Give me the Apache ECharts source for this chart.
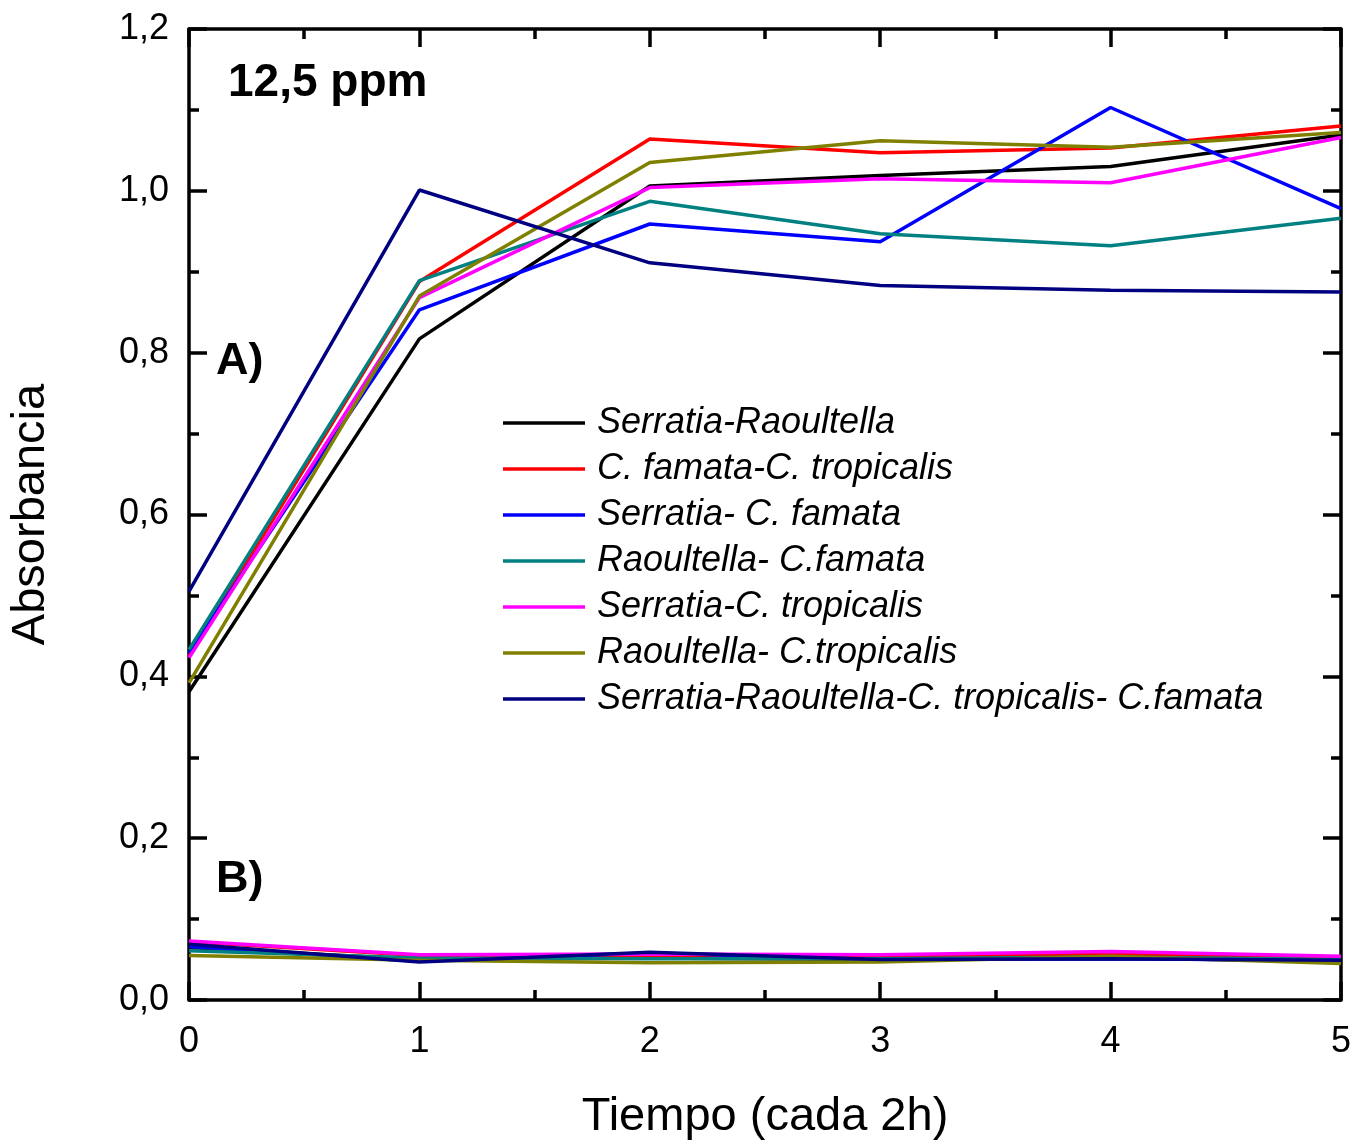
<!DOCTYPE html>
<html><head><meta charset="utf-8">
<script src="https://cdn.jsdelivr.net/npm/echarts@6/dist/echarts.min.js"></script>
<style>html,body{margin:0;padding:0;background:#fff}#c{width:1368px;height:1144px}</style>
</head><body><div id="c"></div>
<script>
const xValues = [0, 1, 2, 3, 4, 5];
const seriesNames = [
  'Serratia-Raoultella',
  'C. famata-C. tropicalis',
  'Serratia- C. famata',
  'Raoultella- C.famata',
  'Serratia-C. tropicalis',
  'Raoultella- C.tropicalis',
  'Serratia-Raoultella-C. tropicalis- C.famata'
];
const seriesColors = ['#000000', '#ff0000', '#0000ff', '#008080', '#ff00ff', '#808000', '#000080'];
// Group A
const serraRaoA   = [0.381, 0.817, 1.006, 1.019, 1.030, 1.069];
const famTropA    = [0.425, 0.888, 1.064, 1.047, 1.053, 1.080];
const serraFamA   = [0.429, 0.853, 0.959, 0.937, 1.103, 0.978];
const raoFamA     = [0.433, 0.889, 0.987, 0.947, 0.932, 0.966];
const serraTropA  = [0.423, 0.868, 1.004, 1.015, 1.010, 1.066];
const raoTropA    = [0.392, 0.870, 1.035, 1.062, 1.054, 1.072];
const allFourA    = [0.505, 1.001, 0.911, 0.883, 0.877, 0.875];
// Group B
const serraRaoB   = [0.065, 0.050, 0.052, 0.050, 0.052, 0.048];
const famTropB    = [0.072, 0.055, 0.054, 0.053, 0.057, 0.052];
const serraFamB   = [0.066, 0.048, 0.058, 0.050, 0.051, 0.049];
const raoFamB     = [0.061, 0.052, 0.051, 0.051, 0.053, 0.050];
const serraTropB  = [0.073, 0.056, 0.057, 0.056, 0.060, 0.054];
const raoTropB    = [0.055, 0.049, 0.046, 0.047, 0.054, 0.045];
const allFourB    = [0.069, 0.047, 0.059, 0.050, 0.051, 0.049];

const groupA = [serraRaoA, famTropA, serraFamA, raoFamA, serraTropA, raoTropA, allFourA];
const groupB = [serraRaoB, famTropB, serraFamB, raoFamB, serraTropB, raoTropB, allFourB];

const FONT = '"Liberation Sans", Arial, sans-serif';

function mk(name, color, vals) {
  return {
    name: name, type: 'line', symbol: 'none', showSymbol: false,
    data: vals.map((v, i) => [xValues[i], v]),
    lineStyle: { color: color, width: 3.5 },
    itemStyle: { color: color },
    emphasis: { disabled: true },
    animation: false
  };
}
const series = [];
groupA.forEach((d, i) => series.push(mk(seriesNames[i], seriesColors[i], d)));
groupB.forEach((d, i) => series.push(mk(seriesNames[i], seriesColors[i], d)));

function axisCommon() {
  return {
    axisLine: { show: true, onZero: false, lineStyle: { color: '#000', width: 3.5 } },
    axisTick: { show: true, inside: true, length: 18, lineStyle: { color: '#000', width: 3.5 } },
    minorTick: { show: true, splitNumber: 2, length: 10, lineStyle: { color: '#000', width: 3.5 } },
    splitLine: { show: false }
  };
}

const chart = echarts.init(document.getElementById('c'), null, { renderer: 'canvas' });
chart.setOption({
  backgroundColor: '#fff',
  animation: false,
  grid: { left: 189, right: 27, top: 29, bottom: 144, containLabel: false, outerBoundsMode: 'none' },
  xAxis: [
    Object.assign({
      type: 'value', min: 0, max: 5, interval: 1, position: 'bottom',
      name: 'Tiempo (cada 2h)', nameLocation: 'middle', nameGap: 94,
      nameTextStyle: { fontFamily: FONT, fontSize: 47, color: '#000' },
      axisLabel: { show: true, fontFamily: FONT, fontSize: 36, color: '#000', margin: 24,
                   formatter: v => String(v) }
    }, axisCommon()),
    Object.assign({
      type: 'value', min: 0, max: 5, interval: 1, position: 'top',
      axisLabel: { show: false }
    }, axisCommon())
  ],
  yAxis: [
    Object.assign({
      type: 'value', min: 0, max: 1.2, interval: 0.2, position: 'left',
      name: 'Absorbancia', nameLocation: 'middle', nameGap: 134,
      nameTextStyle: { fontFamily: FONT, fontSize: 47, color: '#000' },
      axisLabel: { show: true, fontFamily: FONT, fontSize: 36, color: '#000', margin: 20,
                   formatter: v => v.toFixed(1).replace('.', ',') }
    }, axisCommon()),
    Object.assign({
      type: 'value', min: 0, max: 1.2, interval: 0.2, position: 'right',
      axisLabel: { show: false }
    }, axisCommon())
  ],
  legend: {
    data: seriesNames,
    orient: 'vertical', left: 503, top: 405, padding: 0,
    icon: 'rect',
    itemWidth: 82, itemHeight: 3.5, itemGap: 10,
    textStyle: { fontFamily: FONT, fontSize: 36, fontStyle: 'italic', color: '#000', lineHeight: 36, padding: [0, 0, 0, 7] },
    selectedMode: false
  },
  graphic: [
    { type: 'text', left: 228, top: 60, style: { text: '12,5 ppm', font: 'bold 46px ' + FONT, fill: '#000' } },
    { type: 'text', left: 216, top: 339, style: { text: 'A)', font: 'bold 45px ' + FONT, fill: '#000' } },
    { type: 'text', left: 216, top: 857, style: { text: 'B)', font: 'bold 45px ' + FONT, fill: '#000' } }
  ],
  series: series
});
</script>
</body></html>
